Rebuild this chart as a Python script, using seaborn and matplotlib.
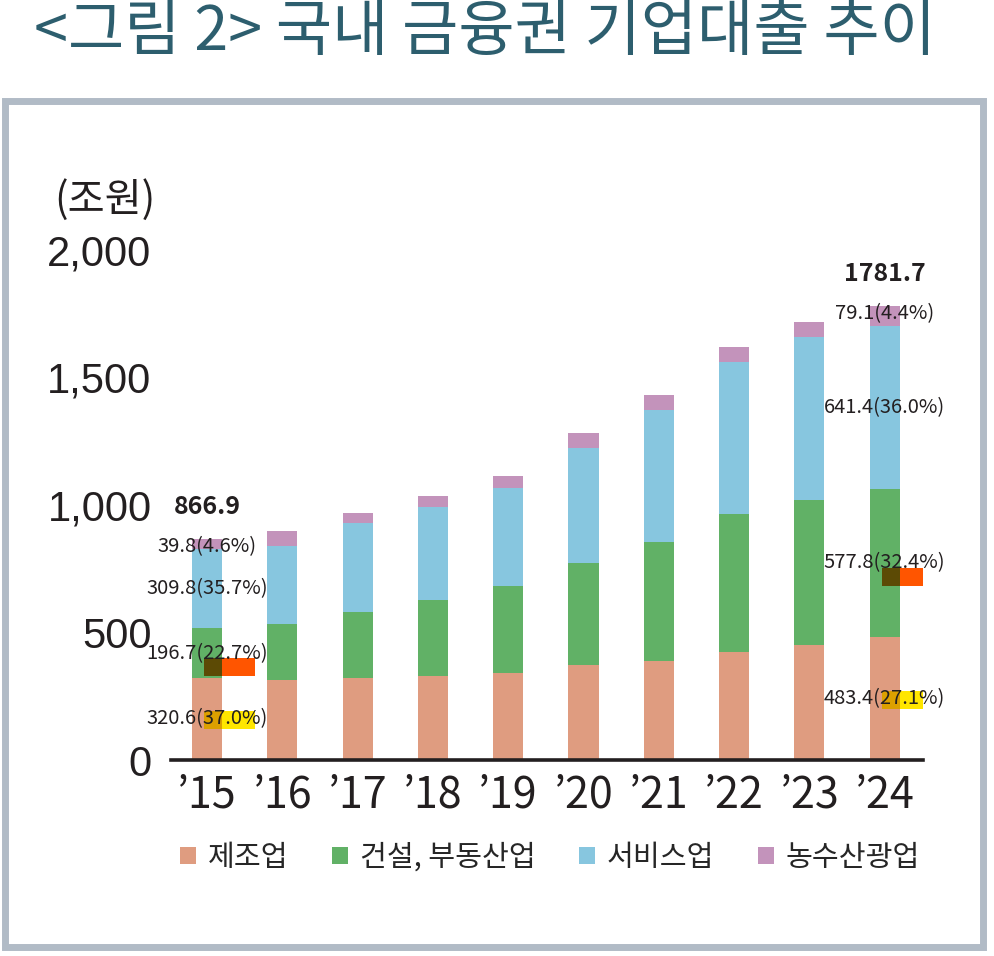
import matplotlib
matplotlib.use('Agg')
import numpy as np
import pandas as pd
import seaborn as sns
import matplotlib.pyplot as plt
from matplotlib.patches import Patch, Rectangle

# Data (조원)
years = ['’15', '’16', '’17', '’18', '’19', '’20', '’21', '’22', '’23', '’24']
manufacturing = [320.6, 313, 321, 329, 341, 372, 387, 423, 450, 483.4]
construction = [196.7, 219, 258, 297, 340, 399, 466, 540, 568, 577.8]
services = [309.8, 309, 349, 368, 387, 454, 521, 599, 641, 641.4]
agriculture = [39.8, 59, 39, 43, 47, 59, 58, 58, 59, 79.1]
series_names = ['제조업', '건설, 부동산업', '서비스업', '농수산광업']
colors = ['#df9c80', '#61b166', '#87c6df', '#c393bb']

labels_first = ['320.6(37.0%)', '196.7(22.7%)', '309.8(35.7%)', '39.8(4.6%)']
labels_last = ['483.4(27.1%)', '577.8(32.4%)', '641.4(36.0%)', '79.1(4.4%)']
totals_text = ['866.9', '1781.7']

sns.set_style('white')
plt.rcParams['font.family'] = ['Noto Sans CJK KR', 'DejaVu Sans']

df = pd.DataFrame({'year': years, 'm': manufacturing, 'c': construction,
                   's': services, 'a': agriculture})
df['c1'] = df['m']
df['c2'] = df['c1'] + df['c']
df['c3'] = df['c2'] + df['s']
df['c4'] = df['c3'] + df['a']

fig = plt.figure(figsize=(9.94, 9.56), dpi=100)
ax = fig.add_axes([171 / 994, 1 - 760 / 956, (923 - 171) / 994, (760 - 250) / 956])

# stacked bars: draw cumulative totals from the top layer down
for col, color in zip(['c4', 'c3', 'c2', 'c1'], colors[::-1]):
    sns.barplot(data=df, x='year', y=col, color=color, saturation=1,
                width=0.4, linewidth=0, ax=ax)

ax.set_xlim(-0.48, 9.51)
ax.set_ylim(0, 2000)
ax.set_xlabel('')
ax.set_ylabel('')
ax.set_yticks([0, 500, 1000, 1500, 2000])
ax.set_yticklabels(['0', '500', '1,000', '1,500', '2,000'], family='Liberation Sans', fontsize=30)
ax.set_xticks(range(len(years)))
ax.set_xticklabels(years, fontsize=31)
ax.tick_params(axis='y', length=0, pad=14, colors='#231f20')
ax.tick_params(axis='x', length=0, pad=10, colors='#231f20')
for s in ['left', 'top', 'right']:
    ax.spines[s].set_visible(False)
ax.spines['bottom'].set_linewidth(2.6)
ax.spines['bottom'].set_color('#231f20')
ax.grid(False)

# value labels for first and last year
layers = np.array([manufacturing, construction, services, agriculture])
for idx, labels, total_txt in [(0, labels_first, totals_text[0]), (9, labels_last, totals_text[1])]:
    vals = layers[:, idx]
    bottoms = np.concatenate([[0], np.cumsum(vals)[:-1]])
    mids = bottoms + vals / 2
    mids[3] = mids[3] - 10 if idx == 0 else mids[3] + 8
    for k in range(4):
        ax.text(idx, mids[k], labels[k], ha='center', va='center', fontsize=14.5,
                color='#231f20', zorder=6)
    ax.text(idx, vals.sum() + 125, total_txt, ha='center', va='center', fontsize=18,
            fontweight='bold', color='#231f20', zorder=6)

    # highlight marks (manufacturing in yellow, construction in orange)
    for k, base, over, y0, y1, width in [(0, '#ffe600', '#dca000', -40, 30, 0.68),
                                         (1, '#ff5500', '#5c4a05', -90, -18, 0.68)]:
        x0 = idx - 0.04
        bar_right = idx + 0.2
        ax.add_patch(Rectangle((x0, mids[k] + y0), bar_right - x0, y1 - y0,
                               facecolor=over, edgecolor='none', zorder=4))
        ax.add_patch(Rectangle((bar_right, mids[k] + y0), x0 + width - bar_right, y1 - y0,
                               facecolor=base, edgecolor='none', zorder=4))

fig.text(105 / 994, 1 - 200 / 956, '(조원)', ha='center', va='center', fontsize=29,
         color='#231f20')

fig.text(485 / 994, 1 - 33 / 956, '<그림 2> 국내 금융권 기업대출 추이', ha='center', va='center',
         fontsize=44, color='#2d5e6e')

handles = [Patch(facecolor=c, edgecolor='none') for c in colors]
fig.legend(handles, series_names, loc='center', bbox_to_anchor=(550 / 994, 1 - 858 / 956),
           ncol=4, frameon=False, fontsize=21, handlelength=0.55, handleheight=0.55,
           handletextpad=0.4, columnspacing=1.5)

fig.patches.append(Rectangle((5 / 994, 1 - 946.5 / 956), (982.5 - 5) / 994, (946.5 - 100.5) / 956,
                             transform=fig.transFigure, fill=False, linewidth=5,
                             edgecolor='#b1bbc6'))

fig.savefig('out.png', dpi=100, facecolor='white')
